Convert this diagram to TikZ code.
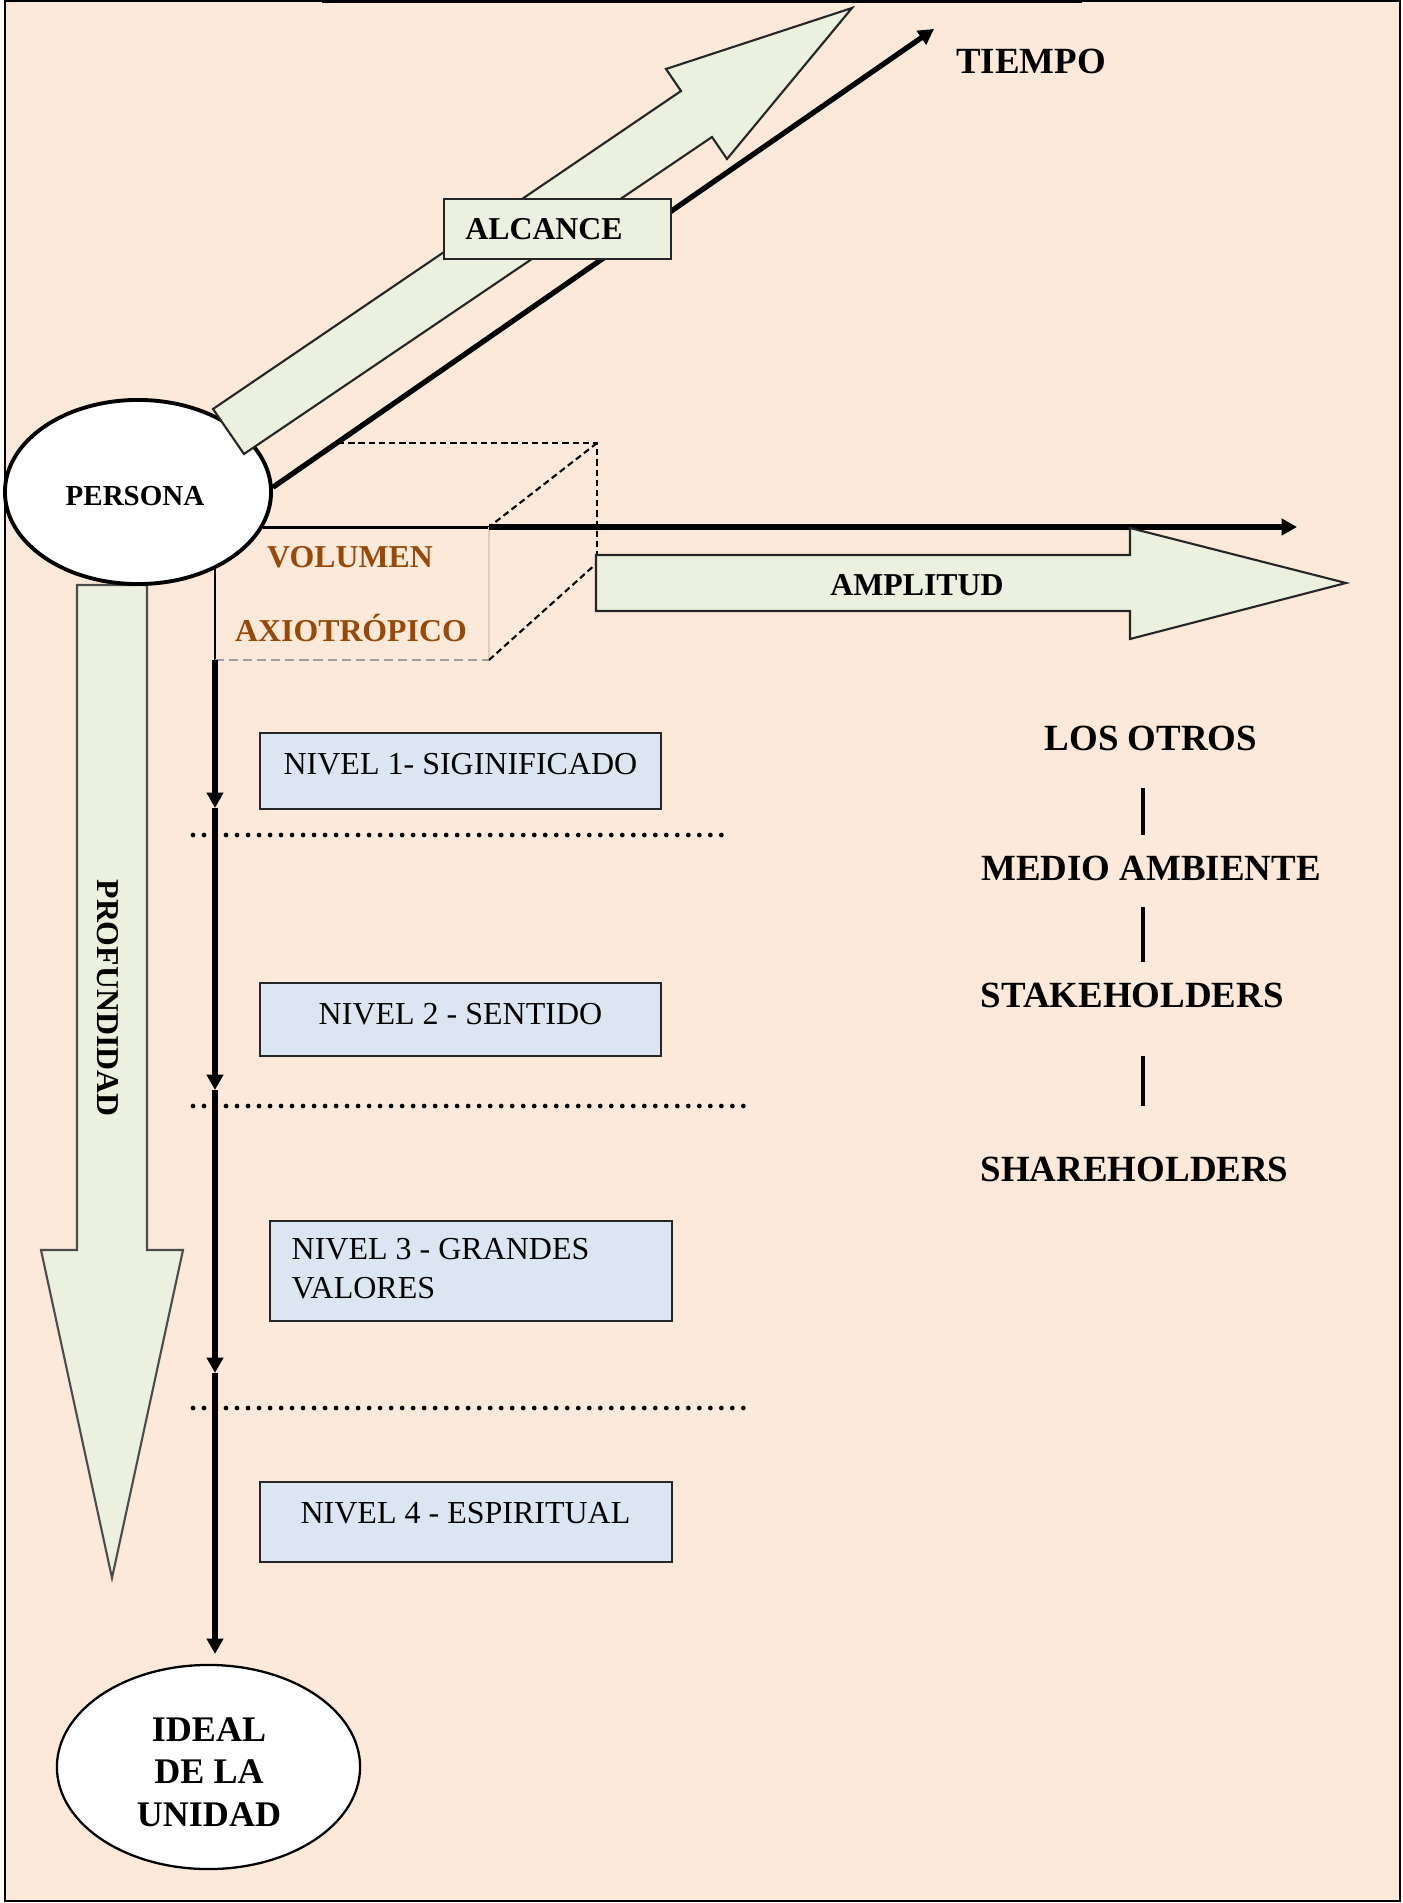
\documentclass[tikz,border=0pt]{standalone}
\usepackage{fontspec}
\setmainfont{Liberation Serif}
\usetikzlibrary{arrows.meta,shapes.geometric}

\definecolor{paper}{HTML}{FDE9D9}
\definecolor{leaf}{HTML}{EBF1DE}
\definecolor{sky}{HTML}{DCE6F2}
\definecolor{rust}{HTML}{984807}
\definecolor{tanline}{HTML}{E8CDB6}
\definecolor{edge}{HTML}{262626}

% one unit = one pixel of the page, y growing downwards
\tikzset{
  x=0.01cm, y=-0.01cm,
  txt/.style={inner sep=0pt, anchor=base},
  bigb/.style={txt, font=\bfseries\fontsize{10.5pt}{12.6pt}\selectfont},
  midb/.style={txt, font=\bfseries\fontsize{9.05pt}{10.9pt}\selectfont},
  lvl/.style={txt, font=\fontsize{9.1pt}{11.1pt}\selectfont},
  lvlbox/.style={rectangle, draw=edge, line width=0.55pt, fill=sky, inner sep=0pt},
  bigarrow/.style={draw=black!85, line width=0.6pt, fill=leaf, line join=miter},
  axis/.style={line width=1.5pt, -{Triangle[length=4.4pt,width=4.6pt]}},
  cube/.style={line width=0.6pt, dash pattern=on 1.8pt off 1.1pt},
  sep/.style={line width=1.35pt, line cap=round, dash pattern=on 0pt off 3.13pt},
  bar/.style={line width=1.3pt},
}

\begin{document}
\begin{tikzpicture}
  \useasboundingbox (0,0) rectangle (1402,1903);
  \fill[white] (0,0) rectangle (1402,1903);
  \fill[paper] (5,1) rectangle (1400,1901);
  \draw[line width=0.65pt] (5,1) rectangle (1400,1901);
  \draw[line width=1.1pt] (322,1.5) -- (1082,1.5);

  % depth: downward block arrow
  \draw[bigarrow, draw=black!70] (77,585) -- (147,585) -- (147,1250) -- (183,1250)
       -- (112,1578) -- (41,1250) -- (77,1250) -- cycle;
  \node[midb, anchor=center, rotate=-90] (prof) at (108,998) {PROFUNDIDAD};

  % the person
  \node[ellipse, draw, line width=1.1pt, fill=white, minimum width=2.66cm,
        minimum height=1.84cm, inner sep=0pt] (persona) at (138,492) {};
  \node[txt, font=\bfseries\fontsize{8.25pt}{10pt}\selectfont] (personatxt) at (135,505) {PERSONA};

  % reach: diagonal block arrow
  \draw[bigarrow] (213,409) -- (681,91) -- (666,69) -- (852,8) -- (727,159)
       -- (712,137) -- (244,454) -- cycle;

  % time axis
  \coordinate (tiempoend) at (934,29);
  \draw[axis] (persona.2) -- (tiempoend);
  \node[bigb] (tiempo) at (1031,74) {TIEMPO};

  \node[rectangle, draw=edge, line width=0.65pt, fill=leaf, minimum width=2.27cm,
        minimum height=0.60cm, inner sep=0pt] (alcbox) at (557.5,229) {};
  \node[midb] (alcance) at (544,240) {ALCANCE};

  % axiotropic volume
  \coordinate (vtr) at (489,527);
  \coordinate (vbr) at (489,660);
  \coordinate (vbl) at (215,660);
  \coordinate (vstart) at (215,567);
  \coordinate (cleft) at (338,443);
  \coordinate (ctop) at (597,443);
  \coordinate (cmid) at (597,555);
  \coordinate (clow) at (597,563);
  \coordinate (amplend) at (1297,527);

  \draw[line width=0.85pt] (persona.-16) -- (persona.-16 -| vtr);
  \draw[line width=0.75pt] (vstart) -- (vbl);
  \draw[draw=gray!75, line width=0.45pt, dash pattern=on 2.6pt off 1.4pt] (vbl) -- (vbr);
  \draw[draw=tanline, line width=0.35pt] (vtr) -- (vbr);
  \draw[cube] (cleft) -- (ctop) -- (cmid);
  \draw[cube] (ctop) -- (vtr);
  \draw[cube] (vbr) -- (clow);
  \draw[axis] (vtr) -- (amplend);

  \node[midb, text=rust] (volumen) at (350,567) {VOLUMEN};
  \node[midb, text=rust] (axio) at (351,641) {AXIOTRÓPICO};

  % breadth: horizontal block arrow
  \draw[bigarrow] (596,555) -- (1130,555) -- (1130,528) -- (1346,583) -- (1130,639)
       -- (1130,611) -- (596,611) -- cycle;
  \node[midb] (amplitud) at (917,595) {AMPLITUD};

  % levels
  \coordinate (d1) at (215,808);
  \coordinate (d2) at (215,1090);
  \coordinate (d3) at (215,1373);
  \coordinate (d4) at (215,1654);
  \draw[axis] (vbl) -- (d1);
  \draw[axis] (d1) -- (d2);
  \draw[axis] (d2) -- (d3);
  \draw[axis] (d3) -- (d4);

  \coordinate (s1a) at (193,835);  \coordinate (s1b) at (731,835);
  \coordinate (s2a) at (193,1106); \coordinate (s2b) at (752,1106);
  \coordinate (s3a) at (193,1408); \coordinate (s3b) at (752,1408);
  \draw[sep] (s1a) -- (s1b);
  \draw[sep] (s2a) -- (s2b);
  \draw[sep] (s3a) -- (s3b);

  \node[lvlbox, minimum width=4.01cm, minimum height=0.76cm] (n1) at (460.5,771) {};
  \node[lvl] (n1t) at (460.5,774) {NIVEL 1- SIGINIFICADO};
  \node[lvlbox, minimum width=4.01cm, minimum height=0.73cm] (n2) at (460.5,1019.5) {};
  \node[lvl] (n2t) at (460.5,1024) {NIVEL 2 - SENTIDO};
  \node[lvlbox, minimum width=4.02cm, minimum height=1.00cm] (n3) at (471,1271) {};
  \node[lvl, anchor=west, align=left] (n3t) at (291,1268.4) {NIVEL 3 - GRANDES\\VALORES};
  \node[lvlbox, minimum width=4.12cm, minimum height=0.80cm] (n4) at (466,1522) {};
  \node[lvl] (n4t) at (465.5,1523) {NIVEL 4 - ESPIRITUAL};

  % goal
  \node[ellipse, draw, line width=0.65pt, fill=white, minimum width=3.03cm,
        minimum height=2.04cm, inner sep=0pt] (ideal) at (208.5,1767) {};
  \node[txt, anchor=center, align=center, font=\bfseries\fontsize{10.25pt}{12.1pt}\selectfont]
        (idealtxt) at (209,1772) {IDEAL\\DE LA\\UNIDAD};

  % the others
  \node[bigb] (otros) at (1151,750.7) {LOS OTROS};
  \node[bigb] (medio) at (1151,880) {MEDIO AMBIENTE};
  \node[bigb, anchor=base west] (stake) at (980,1007.7) {STAKEHOLDERS};
  \node[bigb, anchor=base west] (share) at (980,1181.7) {SHAREHOLDERS};
  \coordinate (b1a) at (1143,788);    \coordinate (b1b) at (1143,835);
  \coordinate (b2a) at (1143,906.7);  \coordinate (b2b) at (1143,961.7);
  \coordinate (b3a) at (1143,1055.7); \coordinate (b3b) at (1143,1105.7);
  \draw[bar] (b1a) -- (b1b);
  \draw[bar] (b2a) -- (b2b);
  \draw[bar] (b3a) -- (b3b);
\end{tikzpicture}
\end{document}
